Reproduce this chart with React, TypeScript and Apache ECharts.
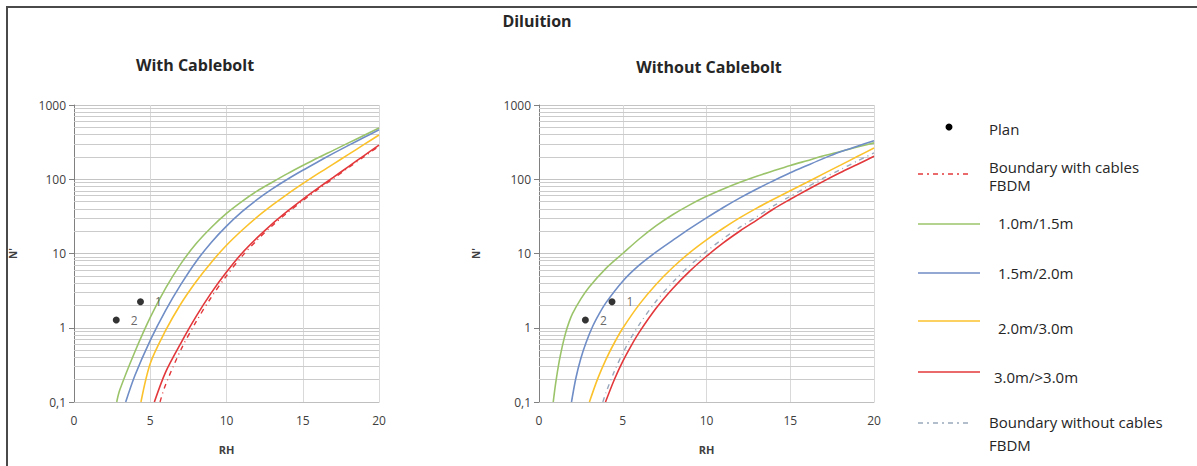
import React, { useEffect, useRef } from "react";
import * as echarts from "echarts";

// ---------- data (RH, N') ----------
const withGreen = [[2.8, 0.1], [3, 0.145], [4, 0.479], [5, 1.38], [6, 3.39], [7, 7.24], [8, 13.5], [9, 22.4], [10, 34.7], [11, 50.1], [12, 69.2], [13, 91.2], [14, 119], [15, 153], [16, 195], [17, 245], [18, 309], [19, 389], [20, 490]];
const withBlue = [[3.39, 0.1], [4, 0.229], [5, 0.676], [6, 1.7], [7, 3.8], [8, 7.76], [9, 14.1], [10, 23.4], [11, 36.3], [12, 53.1], [13, 74.1], [14, 100], [15, 132], [16, 172], [17, 223], [18, 286], [19, 365], [20, 463]];
const withYellow = [[4.39, 0.1], [5, 0.331], [6, 0.912], [7, 2.09], [8, 4.17], [9, 7.59], [10, 12.9], [11, 20.4], [12, 30.9], [13, 44.7], [14, 63.1], [15, 87.1], [16, 119], [17, 160], [18, 216], [19, 292], [20, 394]];
const withRed = [[5.27, 0.1], [6, 0.251], [7, 0.617], [8, 1.41], [9, 2.95], [10, 5.62], [11, 10], [12, 16.2], [13, 25.1], [14, 37.2], [15, 53.7], [16, 75.9], [17, 106], [18, 148], [19, 207], [20, 288]];
const withBoundary = [[5.64, 0.1], [6, 0.17], [7, 0.501], [8, 1.2], [9, 2.57], [10, 5.01], [11, 9.12], [12, 15.1], [13, 23.7], [14, 35.5], [15, 51.3], [16, 73.3], [17, 102], [18, 143], [19, 200], [20, 279]];

const withoutGreen = [[0.85, 0.1], [1, 0.182], [1.2, 0.347], [1.4, 0.575], [1.6, 0.871], [1.8, 1.2], [2, 1.55], [2.5, 2.45], [3, 3.55], [4, 6.31], [5, 10], [6, 15.8], [7, 23.7], [8, 33.5], [9, 45.2], [10, 58.9], [11, 74.1], [12, 91.2], [13, 110], [14, 130], [15, 153], [16, 178], [17, 207], [18, 237], [19, 272], [20, 309]];
const withoutBlue = [[1.94, 0.1], [2.2, 0.209], [2.5, 0.388], [2.8, 0.625], [3.2, 1.04], [3.6, 1.55], [4, 2.18], [5, 4.24], [6, 7.01], [7, 10.5], [8, 15.1], [9, 21.6], [10, 30.2], [11, 41.7], [12, 56.2], [13, 74.1], [14, 95.5], [15, 122], [16, 153], [17, 191], [18, 234], [19, 279], [20, 331]];
const withoutYellow = [[3.01, 0.1], [3.5, 0.205], [4, 0.376], [4.5, 0.628], [5, 0.984], [6, 2.08], [7, 3.86], [8, 6.52], [9, 10.3], [10, 15.3], [11, 21.9], [12, 30.4], [13, 40.9], [14, 53.7], [15, 70], [16, 91.2], [17, 119], [18, 155], [19, 202], [20, 263]];
const withoutRed = [[3.97, 0.1], [4.5, 0.201], [5, 0.352], [5.5, 0.571], [6, 0.879], [7, 1.84], [8, 3.4], [9, 5.78], [10, 9.18], [11, 13.9], [12, 20.1], [13, 28.2], [14, 39.8], [15, 53.7], [16, 71.6], [17, 94.4], [18, 123], [19, 158], [20, 204]];
const withoutBoundary = [[3.81, 0.1], [4, 0.134], [4.5, 0.26], [5, 0.454], [5.5, 0.735], [6, 1.12], [7, 2.29], [8, 4.15], [9, 6.9], [10, 10.7], [11, 15.9], [12, 22.6], [13, 31.2], [14, 43.7], [15, 58.9], [16, 78.5], [17, 104], [18, 135], [19, 176], [20, 226]];

const planNames = ["1", "2"];
const planRH = [4.36, 2.77];
const planN = [2.24, 1.27];

const yTickValues = [0.1, 1, 10, 100, 1000];
const xTicks = [0, 5, 10, 15, 20];
const decades = [0.1, 1, 10, 100];
const minorMultipliers = [2, 3, 4, 5, 6, 7, 8, 9];

const legendLabels = ["Plan", "Boundary with cables", "FBDM", "1.0m/1.5m", "1.5m/2.0m", "2.0m/3.0m", "3.0m/>3.0m", "Boundary without cables", "FBDM"];

const C_GREEN = "#9bc46a";
const C_BLUE = "#6f8dc6";
const C_YELLOW = "#fbc22c";
const C_RED = "#e3383b";
const C_GRAY = "#9aa9bd";
const FONT = "'Open Sans', 'Noto Sans', sans-serif";

export default function App() {
  const ref = useRef<HTMLDivElement>(null);
  useEffect(() => {
    document.body.style.margin = "0";
    const chart = echarts.init(ref.current!, null, { renderer: "svg" });

    const minorValues: number[] = [];
    decades.forEach((d) => minorMultipliers.forEach((m) => minorValues.push(+(d * m).toPrecision(3))));

    const xAxisBase = (gridIndex: number) => ({
      type: "value",
      gridIndex,
      min: xTicks[0],
      max: xTicks[xTicks.length - 1],
      interval: 5,
      name: "RH",
      nameLocation: "middle",
      nameGap: 42,
      nameTextStyle: { fontFamily: FONT, fontWeight: "bold", fontSize: 11, color: "#404040" },
      axisLine: { show: true, lineStyle: { color: "#bfbfbf", width: 1 } },
      axisTick: { show: false },
      axisLabel: { fontFamily: FONT, fontSize: 12, color: "#404040", margin: 12 },
      splitLine: { show: true, lineStyle: { color: "#d9d9d9", width: 1 } },
    });
    const yAxisBase = (gridIndex: number, nameGap: number) => ({
      type: "log",
      logBase: 10,
      gridIndex,
      min: yTickValues[0],
      max: yTickValues[yTickValues.length - 1],
      name: "N'",
      nameLocation: "middle",
      nameGap,
      nameTextStyle: { fontFamily: FONT, fontWeight: "bold", fontSize: 10, color: "#404040" },
      axisLine: { show: true, lineStyle: { color: "#808080", width: 1 } },
      axisTick: { show: true, length: 5, lineStyle: { color: "#808080" } },
      axisLabel: {
        fontFamily: FONT,
        fontSize: 12,
        color: "#404040",
        margin: 8,
        formatter: (v: number) => (v < 1 ? String(+v.toPrecision(2)).replace(".", ",") : String(Math.round(v))),
      },
      splitLine: { show: true, lineStyle: { color: "#c4c4c4", width: 1 } },
    });

    const minorMarkLine = {
      silent: true,
      symbol: "none",
      z: 1,
      label: { show: false },
      lineStyle: { color: "#cbcbcb", type: "solid", width: 1 },
      emphasis: { disabled: true },
      data: minorValues.map((v) => ({ yAxis: v })),
    };

    const lineSeries = (name: string, data: number[][], color: string, idx: number, dash?: number[], mark?: boolean) => ({
      type: "line",
      name,
      xAxisIndex: idx,
      yAxisIndex: idx,
      data,
      smooth: 0.3,
      showSymbol: false,
      symbol: "none",
      clip: true,
      z: 3,
      lineStyle: { color, width: dash ? 1.4 : 1.6, type: dash ? dash : "solid" },
      ...(mark ? { markLine: minorMarkLine } : {}),
    });

    const planSeries = (idx: number) => ({
      type: "scatter",
      name: "Plan",
      xAxisIndex: idx,
      yAxisIndex: idx,
      symbol: "circle",
      symbolSize: 7,
      z: 4,
      itemStyle: { color: "#000" },
      label: {
        show: true,
        position: "right",
        distance: 11,
        formatter: (p: any) => p.name,
        fontFamily: FONT,
        fontSize: 12,
        color: "#404040",
      },
      data: planNames.map((n, i) => ({ name: n, value: [planRH[i], planN[i]] })),
    });

    const legendLine = (y: number, color: string, x2: number, dash?: number[]) => ({
      type: "line",
      shape: { x1: 918, y1: y, x2, y2: y },
      style: { stroke: color, lineWidth: 1.5, lineDash: dash },
    });
    const legendText = (x: number, y: number, text: string) => ({
      type: "text",
      x,
      y,
      style: { text, fontFamily: FONT, fontSize: 15, fill: "#262626", verticalAlign: "middle" },
    });
    const titleText = (x: number, y: number, text: string, size: number) => ({
      type: "text",
      x,
      y,
      style: { text, fontFamily: FONT, fontSize: size, fontWeight: "bold", fill: "#262626", align: "center", verticalAlign: "middle" },
    });

    const option: any = {
      animation: false,
      backgroundColor: "#ffffff",
      grid: [
        { left: 74, top: 105, width: 305, height: 297, containLabel: false },
        { left: 539, top: 105, width: 335, height: 297, containLabel: false },
      ],
      xAxis: [xAxisBase(0), xAxisBase(1)],
      yAxis: [yAxisBase(0, 56), yAxisBase(1, 58)],
      series: [
        lineSeries("1.0m/1.5m", withGreen, C_GREEN, 0, undefined, true),
        lineSeries("1.5m/2.0m", withBlue, C_BLUE, 0),
        lineSeries("2.0m/3.0m", withYellow, C_YELLOW, 0),
        lineSeries("3.0m/>3.0m", withRed, C_RED, 0),
        lineSeries("Boundary with cables FBDM", withBoundary, C_RED, 0, [5, 4, 1, 4]),
        planSeries(0),
        lineSeries("1.0m/1.5m", withoutGreen, C_GREEN, 1, undefined, true),
        lineSeries("1.5m/2.0m", withoutBlue, C_BLUE, 1),
        lineSeries("2.0m/3.0m", withoutYellow, C_YELLOW, 1),
        lineSeries("3.0m/>3.0m", withoutRed, C_RED, 1),
        lineSeries("Boundary without cables FBDM", withoutBoundary, C_GRAY, 1, [5, 4, 1, 4]),
        planSeries(1),
      ],
      graphic: [
        {
          type: "rect",
          shape: { x: 7, y: 7, width: 1300, height: 600 },
          style: { fill: "none", stroke: "#4a4a4a", lineWidth: 2 },
          silent: true,
        },
        titleText(537, 21, "Diluition", 16),
        titleText(195, 65, "With Cablebolt", 16),
        titleText(709, 67, "Without Cablebolt", 16),
        { type: "circle", shape: { cx: 949, cy: 127, r: 3.5 }, style: { fill: "#000" } },
        legendText(989, 129, legendLabels[0]),
        legendLine(174, C_RED, 972, [5, 4, 2, 4]),
        legendText(989, 167, legendLabels[1]),
        legendText(989, 185, legendLabels[2]),
        legendLine(224, C_GREEN, 980),
        legendText(998, 223, legendLabels[3]),
        legendLine(273, C_BLUE, 980),
        legendText(998, 273, legendLabels[4]),
        legendLine(321, C_YELLOW, 980),
        legendText(998, 328, legendLabels[5]),
        legendLine(372, C_RED, 980),
        legendText(994, 377, legendLabels[6]),
        legendLine(423, C_GRAY, 972, [5, 4, 2, 4]),
        legendText(989, 422, legendLabels[7]),
        legendText(989, 445, legendLabels[8]),
      ],
    };
    chart.setOption(option);
    return () => chart.dispose();
  }, []);
  return <div ref={ref} style={{ width: 1197, height: 466 }} />;
}
